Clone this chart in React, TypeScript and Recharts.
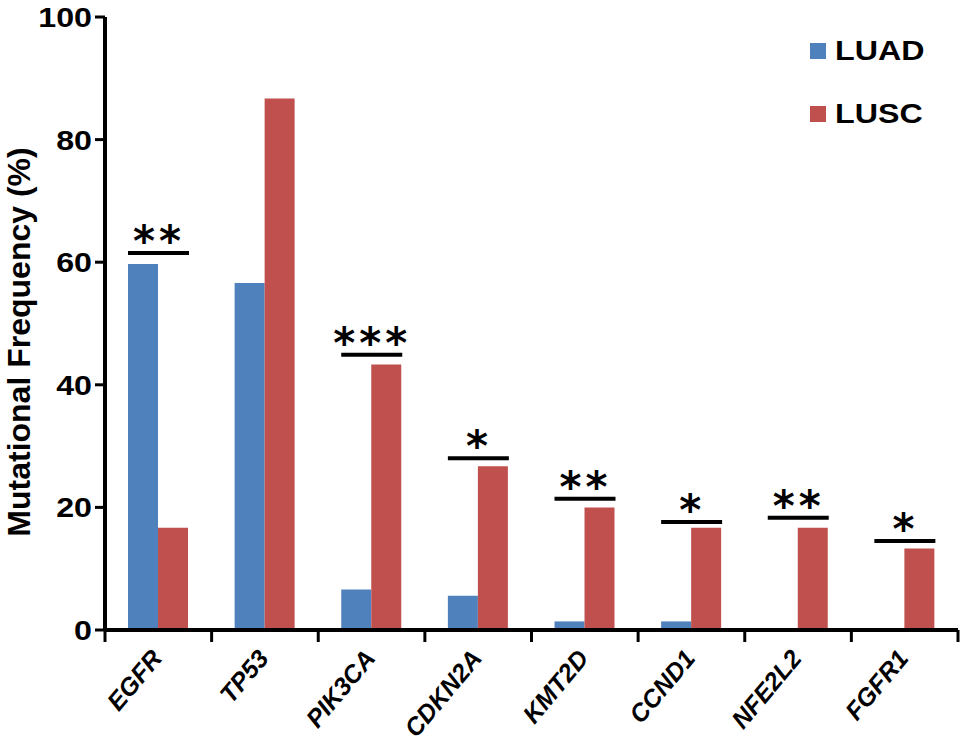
import { Bar, BarChart, LabelList, XAxis, YAxis } from "recharts";

const genes = ["EGFR", "TP53", "PIK3CA", "CDKN2A", "KMT2D", "CCND1", "NFE2L2", "FGFR1"];
const luad = [59.7, 56.6, 6.6, 5.6, 1.4, 1.4, 0, 0];
const lusc = [16.7, 86.7, 43.3, 26.7, 20.0, 16.7, 16.7, 13.3];
// significance bracket height (in %) and stars per gene
const sigLevel = [61.5, 0, 44.9, 28.0, 21.4, 17.6, 18.3, 14.5];
const sigStars = ["**", "", "***", "*", "**", "*", "**", "*"];
const yTicks = [0, 20, 40, 60, 80, 100];

const BLUE = "#4F81BD";
const RED = "#C0504D";
const FONT = "'Liberation Sans', Arial, sans-serif";
const STAR_FONT = "'DejaVu Sans', sans-serif";
// the original figure's lettering is a little wider than Arial
const WIDEN = 1.15;

const data = genes.map((g, i) => ({ gene: g, LUAD: luad[i], LUSC: lusc[i] }));

function GeneTick(props: any) {
  const { x, y, payload, index } = props;
  const half = payload?.offset ?? 53.3;
  const tx = x + 5;
  const ty = y + 29;
  return (
    <g>
      <line x1={x - half} x2={x - half} y1={y} y2={y + 12} stroke="#000" strokeWidth={3} />
      {index === genes.length - 1 && (
        <line x1={x + half} x2={x + half} y1={y} y2={y + 12} stroke="#000" strokeWidth={3} />
      )}
      <text
        transform={`translate(${tx} ${ty}) rotate(-50)`}
        x={0}
        y={0}
        textAnchor="end"
        fontFamily={FONT}
        fontWeight="bold"
        fontStyle="italic"
        fontSize={25}
        fill="#000"
      >
        {payload.value}
      </text>
    </g>
  );
}

function ValueTick(props: any) {
  const { x, y, payload } = props;
  return (
    <text
      transform={`translate(${x} ${y}) scale(${WIDEN} 1)`}
      x={0}
      y={0}
      dy="0.36em"
      textAnchor="end"
      fontFamily={FONT}
      fontWeight="bold"
      fontSize={28}
      fill="#000"
    >
      {payload.value}
    </text>
  );
}

function YTitle() {
  const cx = 30;
  const cy = 342;
  return (
    <text
      transform={`translate(${cx} ${cy}) rotate(-90)`}
      x={0}
      y={0}
      textAnchor="middle"
      fontFamily={FONT}
      fontWeight="bold"
      fontSize={32}
      fill="#000"
    >
      Mutational Frequency (%)
    </text>
  );
}

function SigMark(props: any) {
  const { x, y, width, height, index } = props;
  const stars = sigStars[index];
  if (!stars || !lusc[index]) return null;
  const base = y + height;
  const ly = base - (sigLevel[index] * height) / lusc[index];
  return (
    <g>
      <line x1={x - width} x2={x + width + 1} y1={ly} y2={ly} stroke="#000" strokeWidth={4} />
      <text
        x={x + 1}
        y={ly + 3}
        textAnchor="middle"
        fontFamily={STAR_FONT}
        fontWeight="bold"
        fontSize={42}
        letterSpacing={4}
        fill="#000"
      >
        {stars}
      </text>
    </g>
  );
}

const legendItems = [
  { label: "LUAD", color: BLUE },
  { label: "LUSC", color: RED },
];

export default function App() {
  return (
    <div style={{ position: "relative", width: 968, height: 741, background: "#fff" }}>
      <style>{`body{margin:0;background:#fff}`}</style>
      <BarChart
        width={968}
        height={741}
        data={data}
        margin={{ top: 17, right: 10, bottom: 0, left: 0 }}
        barGap={0}
        barSize={30}
      >
        <XAxis
          dataKey="gene"
          height={111}
          axisLine={{ stroke: "#000", strokeWidth: 4 }}
          tickLine={false}
          tickSize={0}
          tickMargin={0}
          interval={0}
          tick={<GeneTick />}
        />
        <YAxis
          width={105}
          domain={[0, 100]}
          ticks={yTicks}
          interval={0}
          axisLine={{ stroke: "#000", strokeWidth: 4 }}
          tickLine={{ stroke: "#000", strokeWidth: 3 }}
          tickSize={10}
          tickMargin={3}
          tick={<ValueTick />}
          label={<YTitle />}
        />
        <Bar dataKey="LUAD" fill={BLUE} isAnimationActive={false} />
        <Bar dataKey="LUSC" fill={RED} isAnimationActive={false}>
          <LabelList dataKey="LUSC" content={<SigMark />} />
        </Bar>
      </BarChart>
      <div style={{ position: "absolute", left: 810, top: 30 }}>
        {legendItems.map((it, i) => (
          <div
            key={it.label}
            style={{ display: "flex", alignItems: "center", height: 41, marginBottom: i === 0 ? 22.5 : 0 }}
          >
            <span style={{ width: 16, height: 16, background: it.color, marginRight: 9 }} />
            <span
              style={{
                fontFamily: FONT,
                fontWeight: "bold",
                fontSize: 28,
                color: "#000",
                display: "inline-block",
                transform: `scaleX(${WIDEN})`,
                transformOrigin: "left center",
              }}
            >
              {it.label}
            </span>
          </div>
        ))}
      </div>
    </div>
  );
}
